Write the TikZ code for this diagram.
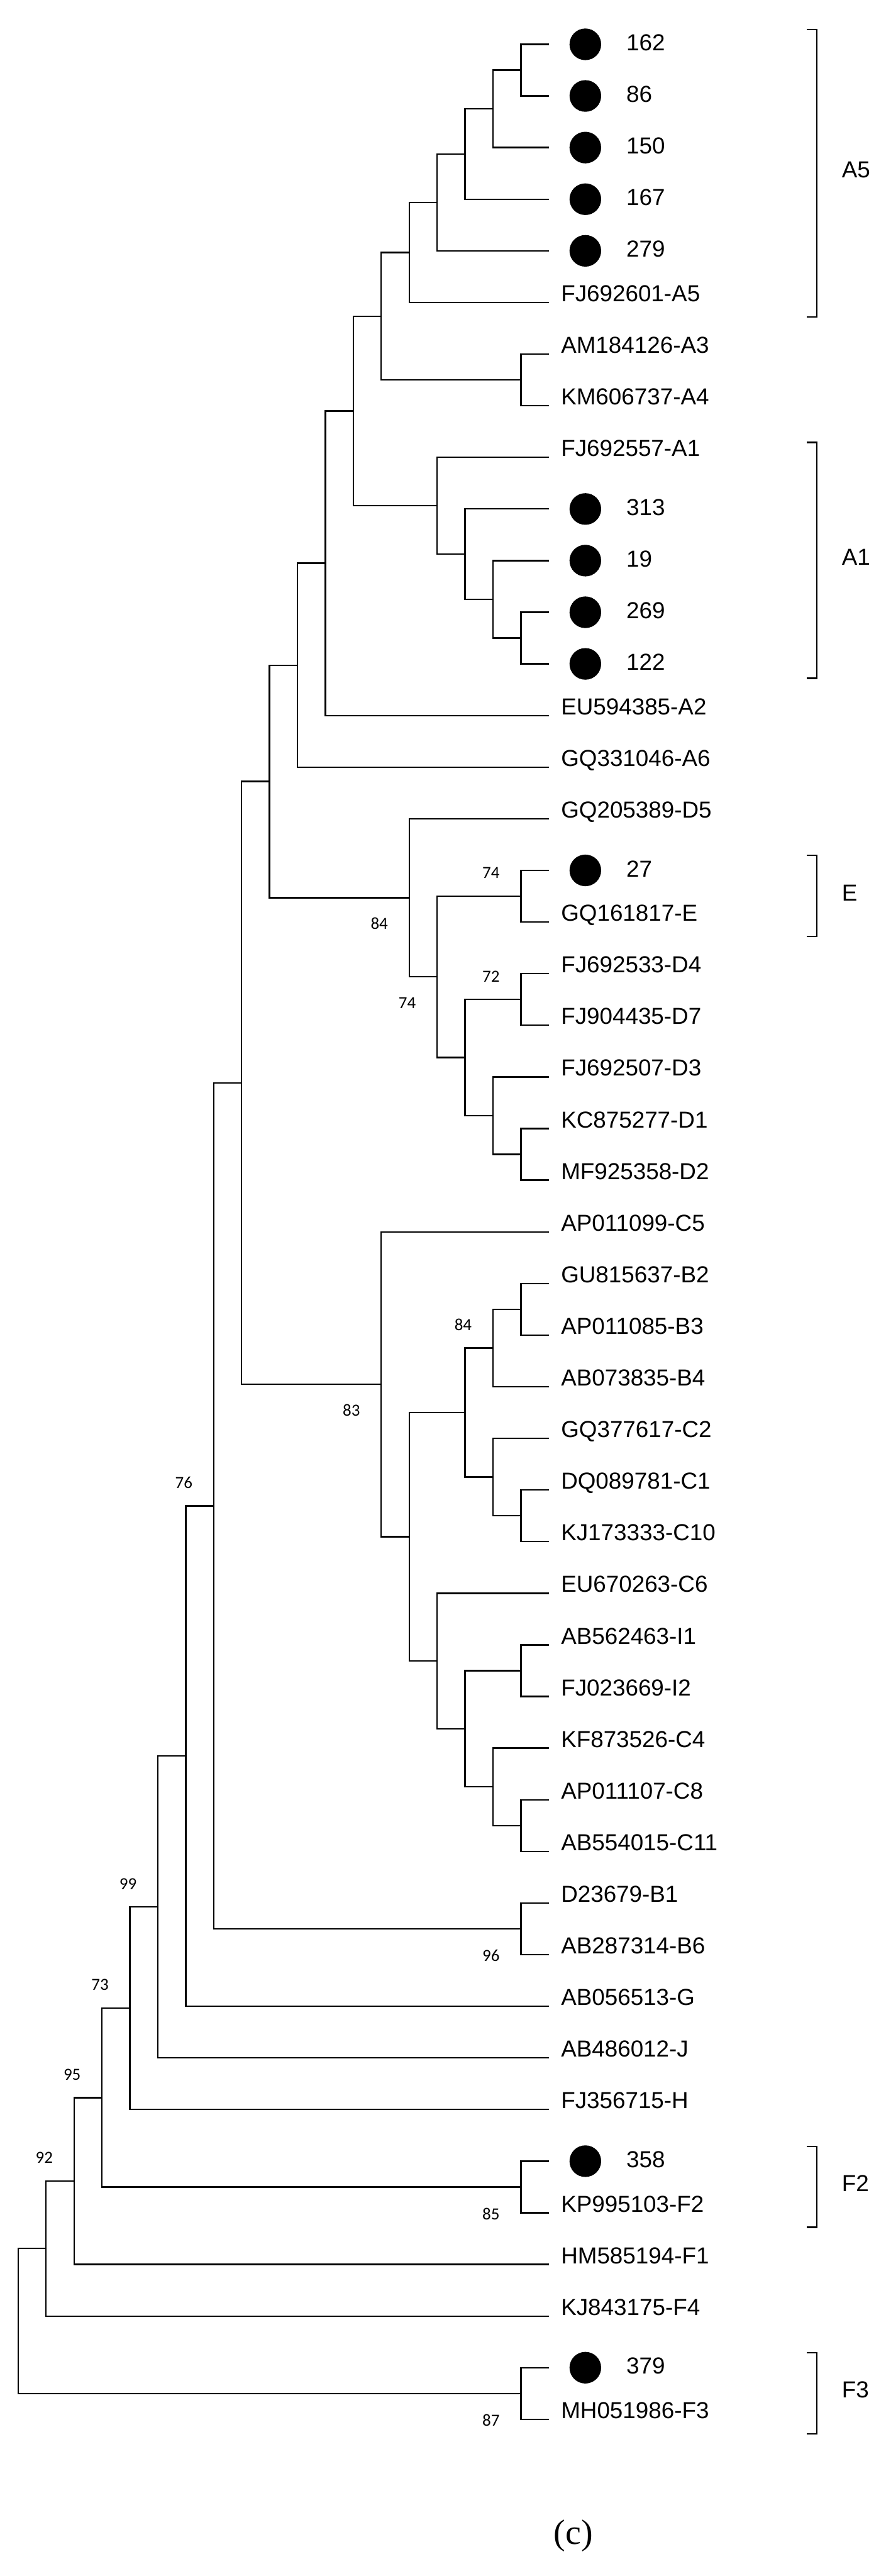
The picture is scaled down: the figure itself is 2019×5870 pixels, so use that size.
\documentclass[tikz,border=0pt]{standalone}
\usepackage{fontspec}
\setmainfont{Liberation Sans}
\newfontfamily\bootfont{Carlito}
\newfontfamily\capfont{Liberation Serif}
\usetikzlibrary{calc}
\tikzset{
  br/.style={line width=0.95pt},
  taxon/.style={anchor=base west,inner sep=0pt,font=\fontsize{15}{18}\selectfont},
  isolate/.style={anchor=west,inner sep=0pt,font=\fontsize{15}{18}\selectfont},
  dot/.style={circle,fill=black,inner sep=0pt,minimum size=20.5pt},
  boot/.style={inner sep=0pt,font=\bootfont\fontsize{11}{13}\selectfont},
  grp/.style={anchor=west,inner sep=0pt,font=\fontsize{15}{18}\selectfont}
}
% internal node: name, level, upper child, lower child
\newcommand{\mergenode}[4]{%
  \pgfmathsetmacro{\jx}{41.4+63.65*#2}
  \path ($(#3)!0.5!(#4)$) coordinate (#1m);
  \coordinate (#1x) at (\jx,0);
  \coordinate (#1) at (#1x |- #1m);
  \draw[br] (#3) -| (#1) |- (#4);
}
% bracket: label, first leaf, last leaf
\newcommand{\cladebar}[3]{%
  \draw[br] ($(l#2)+(588,-34)$) -| ($(l#3)+(611,33)$) -- ($(l#3)+(588,33)$);
  \node[grp] (g#1) at ($(l#2)!0.5!(l#3)+(667,-8)$) {#1};
}

\begin{document}
\begin{tikzpicture}[x=0.01cm,y=-0.01cm]
\useasboundingbox (0,0) rectangle (2019,5870);

% leaf tips
\foreach \i in {1,...,47}{
  \coordinate (l\i) at (1251,{101+(\i-1)*117.65});
}

% reference sequences
\foreach \i/\t in {6/FJ692601-A5,7/AM184126-A3,8/KM606737-A4,9/FJ692557-A1,
  14/EU594385-A2,15/GQ331046-A6,16/GQ205389-D5,18/GQ161817-E,
  19/FJ692533-D4,20/FJ904435-D7,21/FJ692507-D3,22/KC875277-D1,23/MF925358-D2,
  24/AP011099-C5,25/GU815637-B2,26/AP011085-B3,27/AB073835-B4,28/GQ377617-C2,
  29/DQ089781-C1,30/KJ173333-C10,31/EU670263-C6,32/AB562463-I1,33/FJ023669-I2,
  34/KF873526-C4,35/AP011107-C8,36/AB554015-C11,37/D23679-B1,38/AB287314-B6,
  39/AB056513-G,40/AB486012-J,41/FJ356715-H,43/KP995103-F2,44/HM585194-F1,
  45/KJ843175-F4,47/MH051986-F3}{
  \node[taxon] (t\i) at ($(l\i)+(27,-2)$) {\t};
}

% isolates of this study
\foreach \i/\t in {1/162,2/86,3/150,4/167,5/279,10/313,11/19,12/269,13/122,
  17/27,42/358,46/379}{
  \node[dot] (p\i) at ($(l\i)+(83,0)$) {};
  \node[isolate] (t\i) at ($(l\i)+(176,-4)$) {\t};
}

% genotype A
\mergenode{a1}{18}{l1}{l2}
\mergenode{a2}{17}{a1}{l3}
\mergenode{a3}{16}{a2}{l4}
\mergenode{a4}{15}{a3}{l5}
\mergenode{a5}{14}{a4}{l6}
\mergenode{a6}{18}{l7}{l8}
\mergenode{a7}{13}{a5}{a6}
\mergenode{b1}{18}{l12}{l13}
\mergenode{b2}{17}{l11}{b1}
\mergenode{b3}{16}{l10}{b2}
\mergenode{b4}{15}{l9}{b3}
\mergenode{a8}{12}{a7}{b4}
\mergenode{a9}{11}{a8}{l14}
\mergenode{a10}{10}{a9}{l15}

% genotypes D and E
\mergenode{d1}{18}{l17}{l18}
\mergenode{d2}{18}{l19}{l20}
\mergenode{d3}{18}{l22}{l23}
\mergenode{d4}{17}{l21}{d3}
\mergenode{d5}{16}{d2}{d4}
\mergenode{d6}{15}{d1}{d5}
\mergenode{d7}{14}{l16}{d6}
\mergenode{r9}{9}{a10}{d7}

% genotypes B, C and I
\mergenode{c1}{18}{l25}{l26}
\mergenode{c2}{17}{c1}{l27}
\mergenode{c3}{18}{l29}{l30}
\mergenode{c4}{17}{l28}{c3}
\mergenode{c5}{16}{c2}{c4}
\mergenode{c6}{18}{l32}{l33}
\mergenode{c7}{18}{l35}{l36}
\mergenode{c8}{17}{l34}{c7}
\mergenode{c9}{16}{c6}{c8}
\mergenode{c10}{15}{l31}{c9}
\mergenode{c11}{14}{c5}{c10}
\mergenode{c12}{13}{l24}{c11}
\mergenode{r8}{8}{r9}{c12}

% backbone
\mergenode{e1}{18}{l37}{l38}
\mergenode{r7}{7}{r8}{e1}
\mergenode{r6}{6}{r7}{l39}
\mergenode{r5}{5}{r6}{l40}
\mergenode{r4}{4}{r5}{l41}
\mergenode{f1}{18}{l42}{l43}
\mergenode{r3}{3}{r4}{f1}
\mergenode{r2}{2}{r3}{l44}
\mergenode{r1}{1}{r2}{l45}
\mergenode{f2}{18}{l46}{l47}
\mergenode{r0}{0}{r1}{f2}

% bootstrap values
\foreach \n/\v/\dy in {d1/74/-53,d2/72/-53,d6/74/59,d7/84/59,c2/84/-53,
  c12/83/59,e1/96/61,r7/76/-53,r5/99/-53,r4/73/-53,f1/85/61,r3/95/-53,
  r2/92/-53,f2/87/61}{
  \node[boot] (bs\n) at ($(\n)+(-68,\dy)$) {\v};
}

% genotype brackets
\cladebar{A5}{1}{6}
\cladebar{A1}{9}{13}
\cladebar{E}{17}{18}
\cladebar{F2}{42}{43}
\cladebar{F3}{46}{47}

\node[font=\capfont\fontsize{22.8}{26}\selectfont] (cap) at (1307,5778) {(c)};
\end{tikzpicture}
\end{document}
